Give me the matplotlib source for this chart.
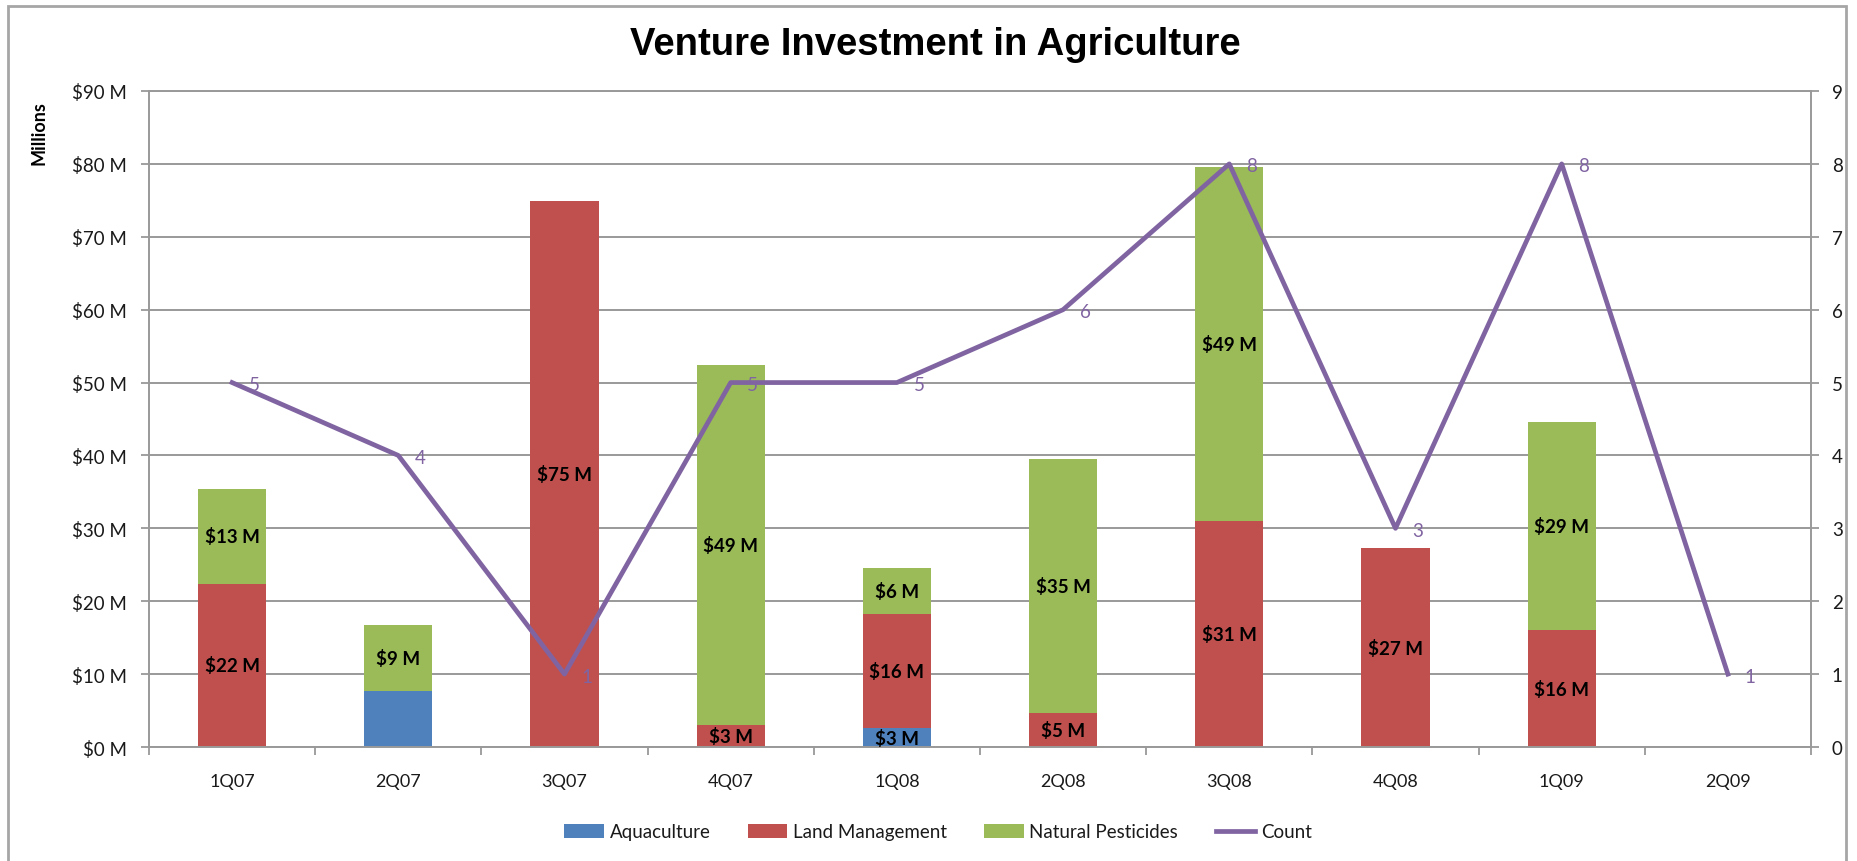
import numpy as np
import matplotlib
matplotlib.use("Agg")
import matplotlib.pyplot as plt
from matplotlib.patches import Rectangle
from matplotlib.lines import Line2D

plt.rcParams['font.family'] = ['Lato', 'DejaVu Sans']

quarters = ['1Q07', '2Q07', '3Q07', '4Q07', '1Q08', '2Q08', '3Q08', '4Q08', '1Q09', '2Q09']
aquaculture = [0, 7.7, 0, 0, 2.6, 0, 0, 0, 0, 0]
land_management = [22.4, 0, 74.9, 3.0, 15.6, 4.6, 31.0, 27.3, 16.0, 0]
natural_pesticides = [13.0, 9.1, 0, 49.4, 6.4, 34.9, 48.6, 0, 28.6, 0]
deal_count = [5, 4, 1, 5, 5, 6, 8, 3, 8, 1]
# the 2Q07 aquaculture deal carries no value label
aquaculture_labelled = [False, False, False, False, True, False, False, False, False, False]

c_blue = '#4F81BD'
c_red = '#C0504D'
c_green = '#9BBB59'
c_purple = '#8064A2'
grid_c = '#999999'
text_c = '#1a1a1a'

fig = plt.figure(figsize=(18.58, 8.62), dpi=100)
ax = fig.add_axes([149/1858, 1 - 748/862, (1811-149)/1858, (748-92)/862])
x = np.arange(len(quarters))
w = 0.41

aq = np.array(aquaculture)
lm = np.array(land_management)
np_ = np.array(natural_pesticides)

b1 = ax.bar(x, aq, w, color=c_blue, zorder=2)
b2 = ax.bar(x, lm, w, bottom=aq, color=c_red, zorder=2)
b3 = ax.bar(x, np_, w, bottom=aq + lm, color=c_green, zorder=2)

# segment labels
def seg_labels(vals, bottoms, mask=None):
    for i, (v, b) in enumerate(zip(vals, bottoms)):
        if v <= 0 or (mask is not None and not mask[i]):
            continue
        ax.text(x[i], b + v / 2, f'${v:.0f} M', ha='center', va='center',
                fontsize=13.5, fontweight='bold', color='black', zorder=3)

seg_labels(aq, np.zeros(len(x)), aquaculture_labelled)
seg_labels(lm, aq)
seg_labels(np_, aq + lm)

ax.set_xlim(-0.5, len(quarters) - 0.5)
ax.set_ylim(0, 90)
ax.set_yticks(np.arange(0, 91, 10))
ax.set_yticklabels([f'${v} M' for v in range(0, 91, 10)])
ax.set_xticks(np.arange(-0.5, len(quarters), 1))
ax.set_xticklabels([])
ax.set_xticks(x, minor=True)
ax.set_xticklabels(quarters, minor=True)
ax.tick_params(axis='x', which='major', length=6, width=1.3, color=grid_c, direction='out')
ax.tick_params(axis='x', which='minor', length=0, pad=19, labelsize=13, labelcolor=text_c)
ax.tick_params(axis='y', length=6, width=1.3, color=grid_c, pad=10, labelsize=13.5, labelcolor=text_c)
ax.grid(axis='y', color=grid_c, linewidth=1.4, zorder=0)
ax.set_axisbelow(True)
for s in ['left', 'bottom', 'top', 'right']:
    ax.spines[s].set_color(grid_c)
    ax.spines[s].set_linewidth(1.4)
ax.spines['right'].set_visible(False)

ax.set_ylabel('Millions', fontsize=13, fontweight='bold', color='black')
ax.yaxis.set_label_coords(47/1858, 1 - 133/862, transform=fig.transFigure)

# deal count on the right-hand axis
ax2 = ax.twinx()
ax2.plot(x, deal_count, color=c_purple, linewidth=3.4, zorder=4)
for xi, c in zip(x, deal_count):
    ax2.annotate(str(c), (xi, c), xytext=(22, -2), textcoords='offset pixels',
                 ha='center', va='center', fontsize=13.5, color=c_purple)
ax2.set_ylim(0, 9)
ax2.set_yticks(np.arange(0, 10, 1))
ax2.tick_params(axis='y', length=6, width=1.3, color=grid_c, pad=9, labelsize=13.5, labelcolor=text_c)
for s in ['left', 'bottom', 'top']:
    ax2.spines[s].set_visible(False)
ax2.spines['right'].set_color(grid_c)
ax2.spines['right'].set_linewidth(1.4)

fig.text(935/1858, 1 - 45/862, 'Venture Investment in Agriculture', ha='center', va='center',
         fontsize=27.5, fontweight='bold', family=['Liberation Sans Narrow', 'Liberation Sans', 'DejaVu Sans'])

handles = [b1, b2, b3, Line2D([0], [0], color=c_purple, linewidth=3.4)]
fig.legend(handles, ['Aquaculture', 'Land Management', 'Natural Pesticides', 'Count'],
           loc='center', bbox_to_anchor=(938/1858, 1 - 833/862), ncol=4, frameon=False,
           fontsize=13.5, handlelength=2.1, handleheight=0.7, handletextpad=0.3,
           columnspacing=2.0, labelcolor=text_c)

# chart frame
fig.patches.append(Rectangle((8/1858, -0.05), (1846-8)/1858, 1.05 - 7/862,
                             transform=fig.transFigure, fill=False,
                             edgecolor='#a6a6a6', linewidth=2))

fig.savefig('out.png', dpi=100)
